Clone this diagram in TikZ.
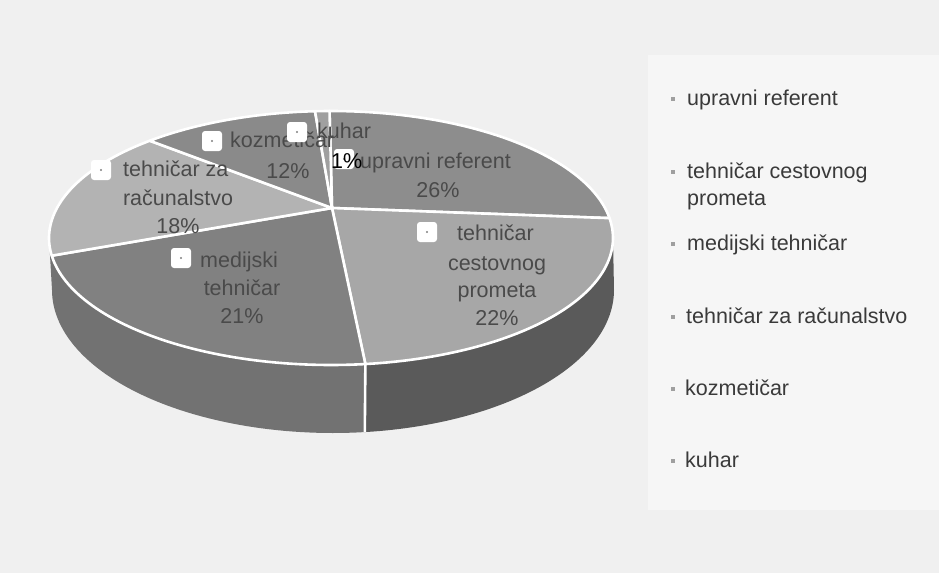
\documentclass[tikz,border=0pt]{standalone}
\usepackage{fontspec}
\setmainfont{Liberation Sans}
\newcommand{\chartfont}{\fontsize{21.5}{26}\selectfont}
\definecolor{bgcol}{HTML}{F0F0F0}
\definecolor{legbg}{HTML}{F6F6F6}
\definecolor{lblgray}{HTML}{4A4A4A}
\definecolor{leggray}{HTML}{3A3A3A}
\definecolor{cUpr}{HTML}{8D8D8D}
\definecolor{cCes}{HTML}{A7A7A7}
\definecolor{cMed}{HTML}{818181}
\definecolor{cRac}{HTML}{B3B3B3}
\definecolor{cKoz}{HTML}{8A8A8A}
\definecolor{cKuh}{HTML}{A0A0A0}
\definecolor{sMed}{HTML}{727272}
\definecolor{sCes}{HTML}{5A5A5A}
\begin{document}
\begin{tikzpicture}[x=1pt,y=-1pt,
  slice/.style={draw=white, line width=2.6pt, line join=round},
  lbl/.style={text=lblgray, font=\chartfont, inner sep=0pt},
  leg/.style={text=leggray, font=\chartfont, inner sep=0pt},
  keybox/.style={fill=white, rounded corners=3pt, minimum size=20pt, inner sep=0pt,
    path picture={\fill[gray] (path picture bounding box.center) circle (1.2pt);}},
  legbul/.style={fill=gray!75, minimum size=4pt, inner sep=0pt}]
\useasboundingbox (0,0) rectangle (939,573);
\fill[bgcol] (0,0) rectangle (939,573);
\fill[legbg] (648,55) rectangle (939,510);

% apex of the pie (perspective centre)
\coordinate (P) at (332,208);

% ---- side of the pie ----
\fill[sMed] plot[domain=83:180, samples=60, variable=\t] ({331+282*cos(\t)},{238+127*sin(\t)})
  -- plot[domain=180:83.5, samples=60, variable=\t] ({333+281*cos(\t)},{290+143*sin(\t)}) -- cycle;
\fill[sCes] plot[domain=0:83, samples=60, variable=\t] ({331+282*cos(\t)},{238+127*sin(\t)})
  -- plot[domain=83.5:0, samples=60, variable=\t] ({333+281*cos(\t)},{290+143*sin(\t)}) -- cycle;
\coordinate (sideT) at ({331+282*cos(83)},{238+127*sin(83)});
\coordinate (sideB) at ({333+281*cos(83.5)},{290+143*sin(83.5)});
\draw[white, line width=2.6pt] (sideT) -- (sideB);

% ---- top face slices ----
\filldraw[slice, fill=cUpr] (P) -- plot[domain=269.7:351, samples=50, variable=\t] ({331+282*cos(\t)},{238+127*sin(\t)}) -- cycle;
\filldraw[slice, fill=cCes] (P) -- plot[domain=-9:83, samples=60, variable=\t] ({331+282*cos(\t)},{238+127*sin(\t)}) -- cycle;
\filldraw[slice, fill=cMed] (P) -- plot[domain=83:172, samples=60, variable=\t] ({331+282*cos(\t)},{238+127*sin(\t)}) -- cycle;
\filldraw[slice, fill=cRac] (P) -- plot[domain=172:230, samples=40, variable=\t] ({331+282*cos(\t)},{238+127*sin(\t)}) -- cycle;
\filldraw[slice, fill=cKoz] (P) -- plot[domain=230:266.75, samples=30, variable=\t] ({331+282*cos(\t)},{238+127*sin(\t)}) -- cycle;
\filldraw[slice, fill=cKuh] (P) -- plot[domain=266.75:269.7, samples=5, variable=\t] ({331+282*cos(\t)},{238+127*sin(\t)}) -- cycle;

% ---- data labels ----
\node[keybox] (kbUpr) at (344,159) {};
\node[lbl, anchor=base west] (tUpr) at (360,168) {upravni referent};
\node[lbl, anchor=base] (pUpr) at (438,197) {26\%};

\node[keybox] (kbCes) at (427,232) {};
\node[lbl, anchor=base west] (tCesA) at (457,240) {tehničar};
\node[lbl, anchor=base] (tCesB) at (497,270) {cestovnog};
\node[lbl, anchor=base] (tCesC) at (497,297) {prometa};
\node[lbl, anchor=base] (pCes) at (497,325) {22\%};

\node[keybox] (kbMed) at (181,258) {};
\node[lbl, anchor=base west] (tMedA) at (200,267) {medijski};
\node[lbl, anchor=base] (tMedB) at (242,295) {tehničar};
\node[lbl, anchor=base] (pMed) at (242,323) {21\%};

\node[keybox] (kbRac) at (101,170) {};
\node[lbl, anchor=base west] (tRacA) at (123,176) {tehničar za};
\node[lbl, anchor=base] (tRacB) at (178,205) {računalstvo};
\node[lbl, anchor=base] (pRac) at (178,233) {18\%};

\node[keybox] (kbKoz) at (212,141) {};
\node[lbl, anchor=base west] (tKoz) at (230,147) {kozmetičar};
\node[lbl, anchor=base] (pKoz) at (288,178) {12\%};

\node[keybox] (kbKuh) at (297,132) {};
\node[lbl, anchor=base west] (tKuh) at (317,138) {kuhar};
\node[lbl, anchor=base west, text=black] (pKuh) at (331,168) {1\%};

% ---- legend ----
\node[legbul] (bUpr) at (673,99) {};
\node[leg, anchor=base west] (lUpr) at (687,105) {upravni referent};
\node[legbul] (bCes) at (673,172) {};
\node[leg, anchor=base west] (lCesA) at (687,178) {tehničar cestovnog};
\node[leg, anchor=base west] (lCesB) at (687,205) {prometa};
\node[legbul] (bMed) at (673,244) {};
\node[leg, anchor=base west] (lMed) at (687,250) {medijski tehničar};
\node[legbul] (bRac) at (673,317) {};
\node[leg, anchor=base west] (lRac) at (686,323) {tehničar za računalstvo};
\node[legbul] (bKoz) at (673,389) {};
\node[leg, anchor=base west] (lKoz) at (685,395) {kozmetičar};
\node[legbul] (bKuh) at (673,461) {};
\node[leg, anchor=base west] (lKuh) at (685,467) {kuhar};
\end{tikzpicture}
\end{document}
